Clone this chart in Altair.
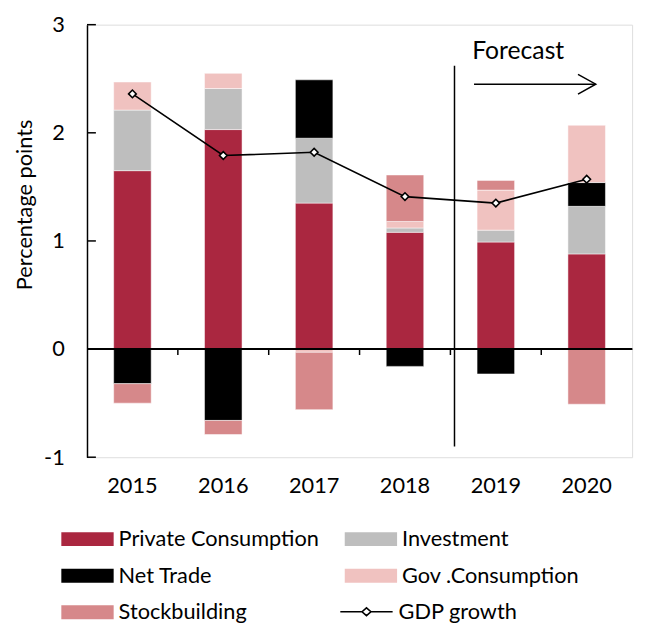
import altair as alt
import pandas as pd

years = ["2015", "2016", "2017", "2018", "2019", "2020"]
private_consumption = [1.65, 2.03, 1.35, 1.08, 0.99, 0.88]
investment = [0.56, 0.38, 0.60, 0.04, 0.11, 0.44]
net_trade = [-0.32, -0.66, 0.54, -0.16, -0.23, 0.22]
gov_consumption = [0.26, 0.14, -0.03, 0.06, 0.37, 0.53]
stockbuilding = [-0.18, -0.13, -0.53, 0.43, 0.09, -0.51]
gdp_growth = [2.36, 1.79, 1.82, 1.41, 1.35, 1.57]
y_ticks = [-1, 0, 1, 2, 3]

series_names = ["Private Consumption", "Investment", "Net Trade",
                "Gov .Consumption", "Stockbuilding"]
series_colors = ["#AA2740", "#BEBEBE", "#000000", "#F0C2C0", "#D6888A"]
series_values = [private_consumption, investment, net_trade,
                 gov_consumption, stockbuilding]

FONT = "Lato"

rows = []
for k, (name, vals) in enumerate(zip(series_names, series_values)):
    for yr, v in zip(years, vals):
        rows.append({"year": yr, "series": name, "value": v, "order": k})
bars_df = pd.DataFrame(rows)
gdp_df = pd.DataFrame({"year": years, "gdp": gdp_growth, "label": "GDP growth"})
ticks_df = pd.DataFrame({"t": y_ticks})
bound_df = pd.DataFrame({"year": years[:-1]})
fc_df = pd.DataFrame({"year": ["2019"], "year2": ["2020"], "top": [2.62], "bottom": [-0.9],
                      "arrow": [2.45], "txt_y": [2.76], "txt": ["Forecast"]})

xscale = alt.Scale(domain=years, paddingInner=0, paddingOuter=0)
yscale = alt.Scale(domain=[-1, 3], nice=False, zero=False)

rect_path = "M-1.472,-0.389H1.472V0.389H-1.472Z"
line_path = "M-1.472,0H-0.25M0.25,0H1.472M-0.25,0L0,-0.22L0.25,0L0,0.22Z"

bars = alt.Chart(bars_df).mark_bar(stroke="white", strokeWidth=0.5,
                                   width=alt.RelativeBandSize(0.413)).encode(
    x=alt.X("year:N", scale=xscale, title=None,
            axis=alt.Axis(domain=False, ticks=False, labelAngle=0, labelPadding=19,
                          labelFontSize=22, labelColor="black", labelFont=FONT)),
    y=alt.Y("value:Q", stack="zero", scale=yscale, title="Percentage points",
            axis=alt.Axis(values=y_ticks, grid=False, ticks=False, domainColor="black",
                          domainWidth=1.5, labelFontSize=22, labelColor="black",
                          labelExpr="'' + datum.value",
                          labelPadding=23, titleFontSize=22, titleFontWeight="normal",
                          titleColor="black", titlePadding=7, titleY=182,
                          labelFont=FONT, titleFont=FONT)),
    color=alt.Color("series:N", scale=alt.Scale(domain=series_names, range=series_colors),
                    legend=alt.Legend(title=None, orient="none", legendX=-17.5, legendY=503,
                                      columns=2, direction="horizontal",
                                      symbolType=rect_path, symbolSize=1296,
                                      symbolStrokeWidth=0, labelFontSize=22, labelLimit=400,
                                      labelColor="black", labelOffset=13.5, columnPadding=25,
                                      rowPadding=8, padding=0, labelFont=FONT)),
    order=alt.Order("order:Q"),
)

zero_line = alt.Chart(ticks_df).mark_rule(color="black", strokeWidth=1.8).encode(
    y=alt.datum(0, scale=yscale))

bounds = alt.Chart(bound_df).mark_rule(color="black", strokeWidth=1.5).encode(
    x=alt.X("year:N", bandPosition=1, scale=xscale),
    y=alt.datum(0), y2=alt.datum(-0.055))

yticks = alt.Chart(ticks_df).mark_rule(color="black", strokeWidth=1.5).encode(
    y=alt.Y("t:Q", scale=yscale), x=alt.value(0), x2=alt.value(9))

line = alt.Chart(gdp_df).mark_line(strokeWidth=1.6).encode(
    x=alt.X("year:N", scale=xscale),
    y=alt.Y("gdp:Q", scale=yscale),
    stroke=alt.Stroke("label:N", scale=alt.Scale(range=["black"]),
                      legend=alt.Legend(title=None, orient="none", legendX=264, legendY=575.5,
                                        symbolType=line_path, symbolSize=1296,
                                        symbolStrokeWidth=1.6, labelFontSize=22,
                                        labelColor="black", labelOffset=13.5, padding=0,
                                        labelFont=FONT)),
)
points = alt.Chart(gdp_df).mark_point(shape="diamond", filled=True, fill="white",
                                      stroke="black", strokeWidth=1.6, size=60, opacity=1).encode(
    x=alt.X("year:N", scale=xscale),
    y=alt.Y("gdp:Q", scale=yscale),
)

vline = alt.Chart(fc_df).mark_rule(color="black", strokeWidth=1.5).encode(
    x=alt.X("year:N", bandPosition=0.045, scale=xscale),
    y=alt.Y("top:Q", scale=yscale), y2="bottom:Q")

arrow = alt.Chart(fc_df).mark_rule(color="black", strokeWidth=1.5, x2Offset=9).encode(
    x=alt.X("year:N", bandPosition=0.26, scale=xscale),
    x2="year2:N",
    y=alt.Y("arrow:Q", scale=yscale))

head = alt.Chart(fc_df).mark_point(shape="M-1.8,-1L0,0L-1.8,1", size=400, filled=False,
                                   color="black", strokeWidth=1.5, opacity=1).encode(
    x=alt.X("year2:N", bandPosition=0.6, scale=xscale),
    y=alt.Y("arrow:Q", scale=yscale))

text = alt.Chart(fc_df).mark_text(align="left", baseline="middle", fontSize=25, font=FONT,
                                  color="black").encode(
    x=alt.X("year:N", bandPosition=0.24, scale=xscale),
    y=alt.Y("txt_y:Q", scale=yscale),
    text="txt:N")

chart = alt.layer(bars, zero_line, bounds, yticks, vline, arrow, head, text, line, points).properties(
    width=552, height=438,
    padding={"left": 80, "top": 13, "right": 9, "bottom": 164},
    autosize=alt.AutoSizeParams(type="none"),
).configure_view(stroke=None).configure(font=FONT)

chart.save("out.html", embed_options={"renderer": "svg", "actions": False})
